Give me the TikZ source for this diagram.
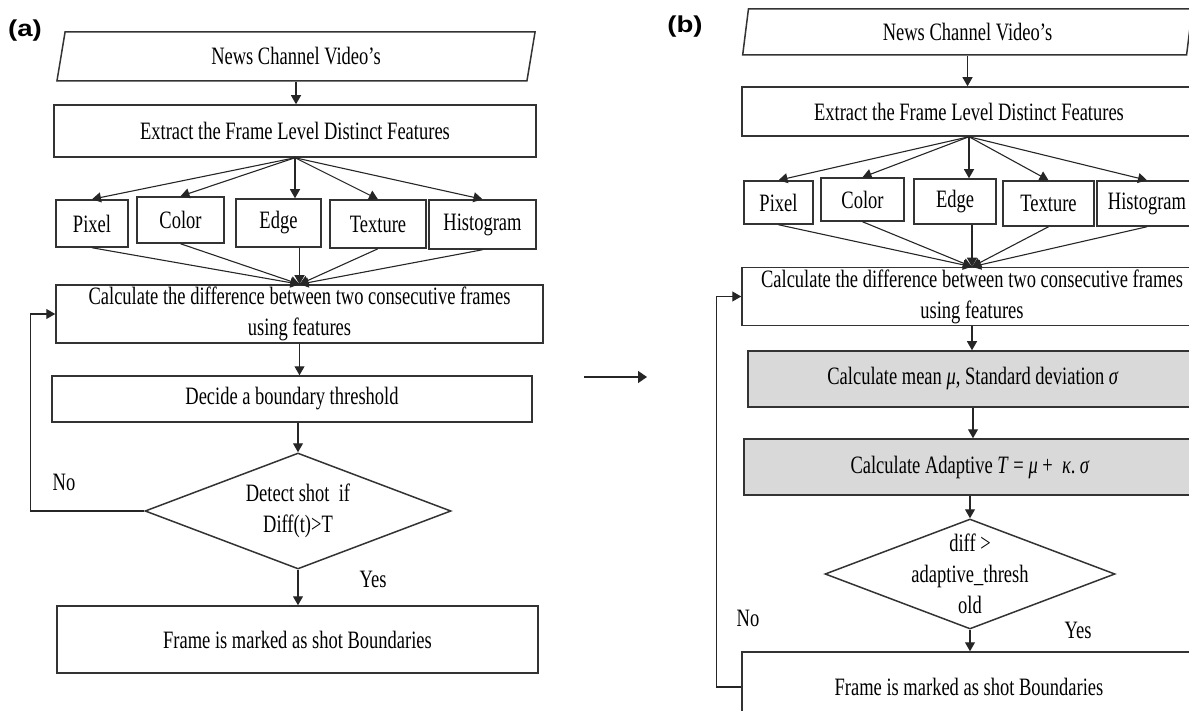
\documentclass[tikz,border=0pt]{standalone}
\usepackage{fontspec}
\setmainfont{Liberation Serif}[FakeStretch=0.74]
\newfontfamily\panelFont{Liberation Sans}[FakeStretch=1.2]
\usepackage{tikz}
\usetikzlibrary{shapes.geometric,arrows.meta,calc}

\begin{document}
\begin{tikzpicture}[x=0.5pt, y=-0.5pt,
        every node/.style={font=\fontsize{12.5}{15.5}\selectfont, inner sep=1pt},
        procBox/.style={draw=black!80, line width=0.75pt, rectangle, align=center},
        grayBox/.style={procBox, fill=gray!30},
        ioBox/.style={draw=black!80, line width=0.75pt, trapezium, trapezium stretches=true,
                      trapezium left angle=82, trapezium right angle=98},
        decisionBox/.style={draw=black!80, line width=0.75pt, diamond, inner sep=0pt},
        flowArrow/.style={draw=black!85, line width=0.55pt, -{Triangle[length=4.5pt,width=5pt]}},
        panelLabel/.style={font=\panelFont\bfseries\fontsize{11.5}{13}\selectfont}]

        % Page frame
        \useasboundingbox (0,0) rectangle (1189,711);
        \clip (0,0) rectangle (1189,711);

        % ---------------- Panel (a) ----------------
        \node[panelLabel] (labA) at (25,31) {(a)};

        \node[ioBox, minimum width=240pt, minimum height=24.5pt] (inA) at (296,56.5) {News Channel Video’s};
        \node[procBox, minimum width=241pt, minimum height=26pt] (extA) at (295,131) {Extract the Frame Level Distinct Features};

        % Features
        \node[procBox, minimum width=36pt, minimum height=23.5pt] (pixA) at (92,223.5) {Pixel};
        \node[procBox, minimum width=43.5pt, minimum height=23pt] (colA) at (180.5,220) {Color};
        \node[procBox, minimum width=42.5pt, minimum height=24pt] (edgA) at (278.5,223) {Edge};
        \node[procBox, minimum width=48pt, minimum height=24pt] (texA) at (378,224) {Texture};
        \node[procBox, minimum width=53.5pt, minimum height=24.5pt] (hisA) at (482.5,224.5) {Histogram};

        \node[procBox, minimum width=243.5pt, minimum height=29pt] (calA) at (299.5,314)
            {Calculate the difference between two consecutive frames\\using features};
        \node[procBox, minimum width=240pt, minimum height=23pt] (decA) at (292,399) {Decide a boundary threshold};

        \node[decisionBox, minimum width=153pt, minimum height=58pt] (dmA) at (298,511) {};
        \node[align=center] (dmAText) at (dmA.center) {Detect shot\ \ if\\Diff(t)>T};

        \node[procBox, minimum width=240.5pt, minimum height=33.5pt] (finA) at (297.5,639.5) {Frame is marked as shot Boundaries};

        \node (noA) at (64,482) {No};
        \node (yesA) at (373,579) {Yes};

        % Connectors (a)
        \draw[flowArrow] (inA.south) -- (inA.south |- extA.north);
        \foreach \feat in {pixA,colA,texA,hisA} {
            \draw[flowArrow] (extA.south) -- (\feat.north);
            \draw[flowArrow] (\feat.south) -- (calA.north);
        }
        \draw[flowArrow] (extA.south) -- (extA.south |- edgA.north);
        \draw[flowArrow] (calA.north |- edgA.south) -- (calA.north);
        \draw[flowArrow] (calA.south) -- (calA.south |- decA.north);
        \draw[flowArrow] (decA.south -| dmA.north) -- (dmA.north);
        \draw[flowArrow] (dmA.south) -- (dmA.south |- finA.north);
        \draw[flowArrow] (dmA.west) -| ([xshift=-12.5pt]calA.west) -- (calA.west);

        % ---------------- middle arrow ----------------
        \coordinate (midStart) at (584,377);
        \coordinate (midEnd) at (647,377);
        \draw[flowArrow, line width=0.75pt, -{Triangle[length=4.5pt,width=6pt]}] (midStart) -- (midEnd);

        % ---------------- Panel (b) ----------------
        \node[panelLabel] (labB) at (685,27) {(b)};

        \node[ioBox, minimum width=225.5pt, minimum height=23pt,
              trapezium left angle=84, trapezium right angle=96] (inB) at (967.5,32) {News Channel Video’s};
        \node[procBox, minimum width=227pt, minimum height=24.5pt] (extB) at (969,111.5) {Extract the Frame Level Distinct Features};

        % Features
        \node[procBox, minimum width=34.5pt, minimum height=21.5pt] (pixB) at (778.5,202.5) {Pixel};
        \node[procBox, minimum width=41.5pt, minimum height=21.5pt] (colB) at (862.5,199.5) {Color};
        \node[procBox, minimum width=41pt, minimum height=22.5pt] (edgB) at (955,201.5) {Edge};
        \node[procBox, minimum width=45.5pt, minimum height=22.5pt] (texB) at (1048.5,203.5) {Texture};
        \node[procBox, minimum width=50pt, minimum height=22.5pt] (hisB) at (1147,203.5) {Histogram};

        \node[procBox, minimum width=230pt, minimum height=28.5pt] (calB) at (972,296.5)
            {Calculate the difference between two consecutive frames\\using features};
        \node[grayBox, minimum width=225pt, minimum height=28pt] (meanB) at (973,379)
            {Calculate mean \textit{μ}, Standard deviation \textit{σ}};
        \node[grayBox, minimum width=226pt, minimum height=28pt] (adapB) at (970,467)
            {Calculate Adaptive \textit{T} = \textit{μ} +\ \ \textit{κ}.\,\textit{σ}};

        \node[decisionBox, minimum width=145pt, minimum height=55pt] (dmB) at (970,574) {};
        \node[align=center] (dmBText) at (dmB.center) {diff >\\adaptive\_thresh\\old};

        \node[procBox, minimum width=227pt, minimum height=35pt] (finB) at (969,687) {Frame is marked as shot Boundaries};

        \node (noB) at (748,618) {No};
        \node (yesB) at (1078,630) {Yes};

        % Connectors (b)
        \draw[flowArrow] (inB.south) -- (inB.south |- extB.north);
        \foreach \feat in {pixB,colB,texB,hisB} {
            \draw[flowArrow] (extB.south) -- (\feat.north);
            \draw[flowArrow] (\feat.south) -- (calB.north);
        }
        \draw[flowArrow] (extB.south) -- (extB.south |- edgB.north);
        \draw[flowArrow] (calB.north |- edgB.south) -- (calB.north);
        \draw[flowArrow] (calB.south) -- (calB.south |- meanB.north);
        \draw[flowArrow] (meanB.south) -- (meanB.south |- adapB.north);
        \draw[flowArrow] (adapB.south -| dmB.north) -- (dmB.north);
        \draw[flowArrow] (dmB.south) -- (dmB.south |- finB.north);
        \draw[flowArrow] (finB.west) -| ([xshift=-12.5pt]calB.west) -- (calB.west);

\end{tikzpicture}
\end{document}
